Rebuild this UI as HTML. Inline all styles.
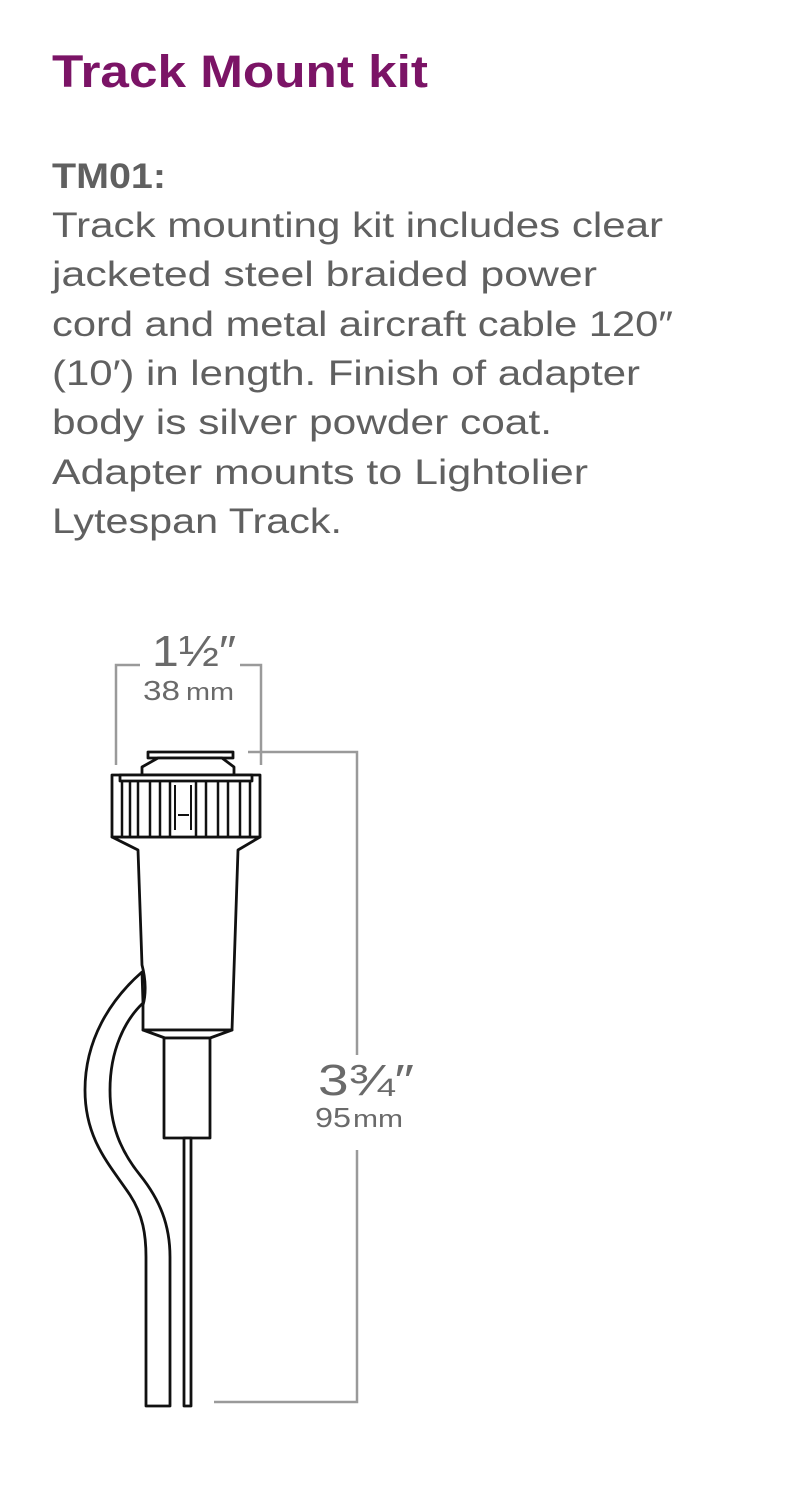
<!DOCTYPE html>
<html><head><meta charset="utf-8"><style>
html,body{margin:0;padding:0;background:#fff;}
svg{display:block;}
</style></head><body>
<svg width="800" height="1500" viewBox="0 0 800 1500" xmlns="http://www.w3.org/2000/svg">
<g font-family="Liberation Sans, sans-serif">
<text x="52" y="87" font-size="45" font-weight="bold" fill="#7b1466" textLength="376" lengthAdjust="spacingAndGlyphs">Track Mount kit</text>
<text x="52" y="188" font-size="35" font-weight="bold" fill="#606060" textLength="114" lengthAdjust="spacingAndGlyphs">TM01:</text>
<g font-size="35" fill="#606060">
<text x="52" y="237" textLength="611" lengthAdjust="spacingAndGlyphs">Track mounting kit includes clear</text>
<text x="52" y="286" textLength="545" lengthAdjust="spacingAndGlyphs">jacketed steel braided power</text>
<text x="52" y="336" textLength="621" lengthAdjust="spacingAndGlyphs">cord and metal aircraft cable 120″</text>
<text x="52" y="385" textLength="588" lengthAdjust="spacingAndGlyphs">(10′) in length. Finish of adapter</text>
<text x="52" y="434" textLength="500" lengthAdjust="spacingAndGlyphs">body is silver powder coat.</text>
<text x="52" y="484" textLength="536" lengthAdjust="spacingAndGlyphs">Adapter mounts to Lightolier</text>
<text x="52" y="533" textLength="290" lengthAdjust="spacingAndGlyphs">Lytespan Track.</text>
</g>
<g fill="#6a6a6a">
<text x="152" y="666" font-size="44" textLength="84" lengthAdjust="spacingAndGlyphs">1½″</text>
<text x="143" y="700" font-size="28" textLength="37" lengthAdjust="spacingAndGlyphs">38</text>
<text x="186" y="700" font-size="24" textLength="48" lengthAdjust="spacingAndGlyphs">mm</text>
<text x="318" y="1095" font-size="44" textLength="96" lengthAdjust="spacingAndGlyphs">3¾″</text>
<text x="315" y="1127" font-size="28" textLength="36" lengthAdjust="spacingAndGlyphs">95</text>
<text x="353" y="1127" font-size="24" textLength="50" lengthAdjust="spacingAndGlyphs">mm</text>
</g>
</g>
<g stroke="#9a9a9a" stroke-width="2.5" fill="none">
<polyline points="116,765 116,665 140,665"/>
<polyline points="240,665 261,665 261,765"/>
<polyline points="248,752 357,752 357,1055"/>
<polyline points="357,1150 357,1402 214,1402"/>
</g>
<g stroke="#111" stroke-width="2.8" fill="#fff" stroke-linejoin="round">
<path d="M142,972 C110,1000 85,1040 85,1090 C85,1140 110,1165 130,1195 C143,1215 146,1235 146,1257 L146,1406 L170,1406 L170,1257 C170,1225 160,1200 140,1175 C120,1150 110,1125 110,1090 C110,1050 125,1020 143,1003 Z"/>
<path d="M112,837 L138,850 L142,965 C146,980 146,995 143,1005 L143,1030 L232,1030 L238,850 L260,837 Z"/>
<path d="M143,1030 L165,1038 L210,1038 L232,1030 Z"/>
<rect x="164" y="1038" width="46" height="100"/>
<rect x="184" y="1138" width="7" height="268"/>
<rect x="148" y="752" width="85" height="6"/>
<path d="M158,758 L142,767 L142,775 L234,775 L234,767 L222,758 Z"/>
<rect x="112" y="775" width="148" height="62"/>
<rect x="120" y="775" width="132" height="6"/>
<path d="M175,785 L175,830 M191,785 L191,830 M178,815 L189,815" stroke-width="2"/>
</g>
<g stroke="#111" stroke-width="2.5">
<line x1="122" y1="781" x2="122" y2="837"/>
<line x1="130" y1="781" x2="130" y2="837"/>
<line x1="138" y1="781" x2="138" y2="837"/>
<line x1="150" y1="781" x2="150" y2="837"/>
<line x1="160" y1="781" x2="160" y2="837"/>
<line x1="170" y1="781" x2="170" y2="837"/>
<line x1="196" y1="781" x2="196" y2="837"/>
<line x1="206" y1="781" x2="206" y2="837"/>
<line x1="218" y1="781" x2="218" y2="837"/>
<line x1="228" y1="781" x2="228" y2="837"/>
<line x1="240" y1="781" x2="240" y2="837"/>
<line x1="250" y1="781" x2="250" y2="837"/>
</g>
</svg>
</body></html>
